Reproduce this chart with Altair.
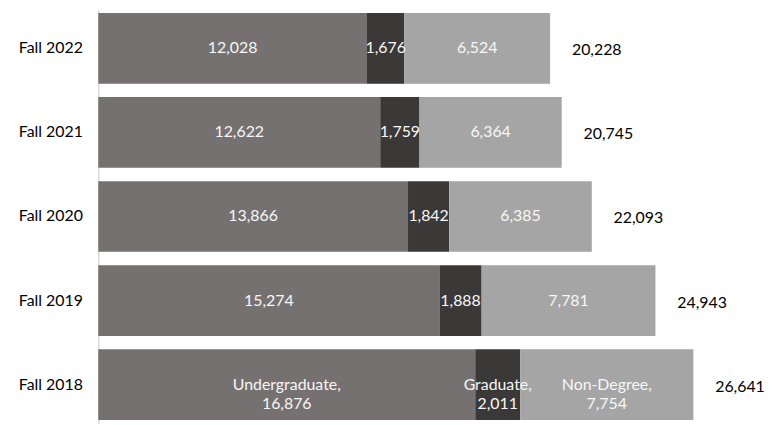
import altair as alt
import pandas as pd

terms = ["Fall 2022", "Fall 2021", "Fall 2020", "Fall 2019", "Fall 2018"]
categories = ["Undergraduate", "Graduate", "Non-Degree"]
undergrad = [12028, 12622, 13866, 15274, 16876]
graduate = [1676, 1759, 1842, 1888, 2011]
nondegree = [6524, 6364, 6385, 7781, 7754]
totals = [20228, 20745, 22093, 24943, 26641]
colors = ["#767171", "#3B3838", "#A5A5A5"]

rows = []
for i, t in enumerate(terms):
    for j, (c, vals) in enumerate(zip(categories, [undergrad, graduate, nondegree])):
        v = vals[i]
        lab = f"{v:,}"
        if t == "Fall 2018":
            lab = f"{c},\n{v:,}"
        rows.append({"term": t, "category": c, "value": v, "order": j, "label": lab})
df = pd.DataFrame(rows)
df_tot = pd.DataFrame({"term": terms, "total": totals, "tlabel": [f"{v:,}" for v in totals]})

FONT = "Lato"
yenc = alt.Y(
    "term:N",
    sort=terms,
    scale=alt.Scale(paddingInner=0.16, paddingOuter=0.04),
    axis=alt.Axis(title=None, ticks=False, labelPadding=16, domainColor="#d9d9d9",
                  domainWidth=1.5, labelFont=FONT, labelFontSize=16, labelColor="black", grid=False),
)
xscale = alt.Scale(domain=[0, 28650], nice=False, zero=True)

base = alt.Chart(df).transform_stack(
    stack="value", as_=["x0", "x1"], groupby=["term"], sort=[alt.SortField("order")]
).transform_calculate(mid="(datum.x0 + datum.x1) / 2")

bars = base.mark_bar().encode(
    y=yenc,
    x=alt.X("x0:Q", scale=xscale, axis=None),
    x2="x1:Q",
    color=alt.Color("category:N", scale=alt.Scale(domain=categories, range=colors), legend=None),
)

inner = base.mark_text(color="#f7f7f7", font=FONT, fontSize=16, lineBreak="\n", lineHeight=20).encode(
    y=alt.Y("term:N", sort=terms),
    x=alt.X("mid:Q", scale=xscale),
    text="label:N",
)

tot = alt.Chart(df_tot).mark_text(align="left", dx=22, dy=2, color="black", font=FONT, fontSize=16).encode(
    y=alt.Y("term:N", sort=terms),
    x=alt.X("total:Q", scale=xscale),
    text="tlabel:N",
)

chart = alt.layer(bars, inner, tot).properties(
    width=645, height=417,
    autosize=alt.AutoSizeParams(type="none"),
    padding={"left": 91, "top": 0, "right": 30, "bottom": 0},
).configure_view(stroke=None)

chart.save("out.html", embed_options={"renderer": "svg", "actions": False})
